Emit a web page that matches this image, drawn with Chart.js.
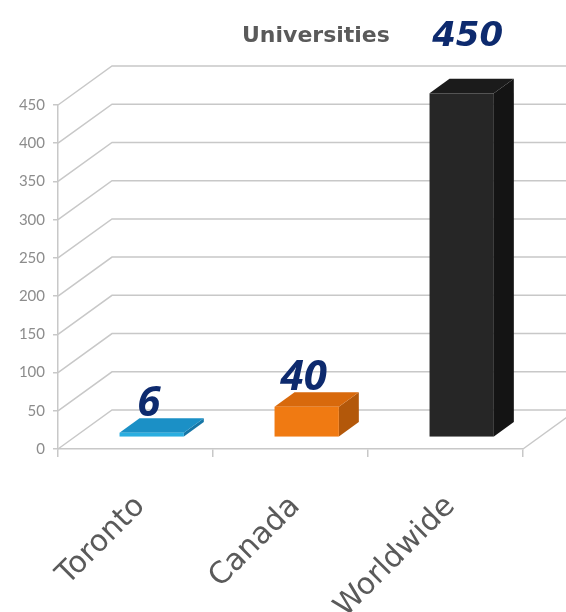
<!DOCTYPE html>
<html>
<head>
<meta charset="utf-8">
<script src="https://cdn.jsdelivr.net/npm/chart.js@4/dist/chart.umd.min.js"></script>
<style>
  html, body { margin: 0; padding: 0; background: #fff; }
  #wrap { width: 566px; height: 612px; position: relative; }
</style>
</head>
<body>
<div id="wrap"><canvas id="chart"></canvas></div>
<script>
// data
const categories = ['Toronto', 'Canada', 'Worldwide'];
const universities = [6, 40, 450];
const yTicks = [0, 50, 100, 150, 200, 250, 300, 350, 400, 450];
const chartTitle = 'Universities';

// box colours: front, top, side
const boxColors = [
  { front: '#2aaee0', top: '#1b90c6', side: '#1676a6' },
  { front: '#f07a12', top: '#d8690c', side: '#b3580a' },
  { front: '#262626', top: '#1b1b1b', side: '#141414' }
];

// depth of the back wall and where the bars sit inside it
const WALL = { dx: 54, dy: -39 };
const BAR_FRONT = 0.3, BAR_BACK = 0.67;
const GRID = '#c8c8c8';

const wallPlugin = {
  id: 'wall',
  beforeDatasetsDraw(chart) {
    const { ctx, scales: { y, x } } = chart;
    const left = x.left, right = x.right;
    ctx.save();
    ctx.strokeStyle = GRID;
    ctx.lineWidth = 1.5;
    yTicks.forEach(v => {
      const py = y.getPixelForValue(v);
      ctx.beginPath();
      ctx.moveTo(left, py);
      ctx.lineTo(left + WALL.dx, py + WALL.dy);
      ctx.lineTo(chart.width, py + WALL.dy);
      ctx.stroke();
    });
    // floor right edge
    const py0 = y.getPixelForValue(0);
    ctx.beginPath();
    ctx.moveTo(right, py0);
    ctx.lineTo(right + WALL.dx, py0 + WALL.dy);
    ctx.stroke();
    ctx.restore();
  },
  afterDatasetsDraw(chart) {
    const { ctx } = chart;
    const meta = chart.getDatasetMeta(0);
    const fx = WALL.dx * BAR_FRONT, fy = WALL.dy * BAR_FRONT;
    const ddx = WALL.dx * (BAR_BACK - BAR_FRONT), ddy = WALL.dy * (BAR_BACK - BAR_FRONT);
    ctx.save();
    meta.data.forEach((el, i) => {
      const c = boxColors[i];
      const l = el.x - el.width / 2 + fx, r = el.x + el.width / 2 + fx;
      const t = el.y + fy, b = el.base + fy;
      // side
      ctx.fillStyle = c.side;
      ctx.beginPath();
      ctx.moveTo(r, t); ctx.lineTo(r + ddx, t + ddy);
      ctx.lineTo(r + ddx, b + ddy); ctx.lineTo(r, b);
      ctx.closePath(); ctx.fill();
      // top
      ctx.fillStyle = c.top;
      ctx.beginPath();
      ctx.moveTo(l, t); ctx.lineTo(r, t);
      ctx.lineTo(r + ddx, t + ddy); ctx.lineTo(l + ddx, t + ddy);
      ctx.closePath(); ctx.fill();
      // front
      ctx.fillStyle = c.front;
      ctx.fillRect(l, t, r - l, b - t);

      // value label
      let ly = t + ddy - 2;
      let cx = el.x + fx - 3;
      ctx.fillStyle = '#0d2a6e';
      ctx.textAlign = 'center';
      ctx.textBaseline = 'alphabetic';
      if (ly < 100) {
        // tallest bar: label sits on the title line
        ly = 46;
        cx += 9;
        ctx.font = 'italic bold 34px "DejaVu Sans"';
      } else {
        ctx.font = 'italic bold 42px "Open Sans"';
      }
      ctx.fillText(String(universities[i]), cx, ly);
    });
    ctx.restore();
  },
  afterDraw(chart) {
    const { ctx } = chart;
    ctx.save();
    ctx.fillStyle = '#5a5a5a';
    ctx.font = 'bold 22px "DejaVu Sans"';
    ctx.textAlign = 'left';
    ctx.textBaseline = 'alphabetic';
    ctx.fillText(chartTitle, 242, 42);
    ctx.restore();
  }
};

new Chart(document.getElementById('chart'), {
  type: 'bar',
  data: {
    labels: categories,
    datasets: [{
      label: chartTitle,
      data: universities,
      backgroundColor: 'rgba(0,0,0,0)',
      borderWidth: 0,
      categoryPercentage: 1,
      barPercentage: 0.415
    }]
  },
  options: {
    responsive: true,
    maintainAspectRatio: false,
    animation: false,
    layout: { padding: { top: 105, right: 43, left: 0, bottom: 0 } },
    plugins: {
      legend: { display: false },
      tooltip: { enabled: false }
    },
    scales: {
      x: {
        afterFit: s => { s.height = 163; },
        grid: { drawOnChartArea: false, tickLength: 8, color: GRID, lineWidth: 1.5 },
        border: { color: GRID, width: 1.5 },
        ticks: {
          minRotation: 45, maxRotation: 45,
          color: '#5a5a5a',
          font: { size: 30, family: 'DejaVu Sans' },
          padding: 32,
          labelOffset: 5
        }
      },
      y: {
        min: 0, max: 450,
        afterFit: s => { s.width = 58; },
        afterBuildTicks: s => { s.ticks = yTicks.map(v => ({ value: v })); },
        grid: { drawOnChartArea: false, tickLength: 5, color: GRID, lineWidth: 1.5 },
        border: { color: GRID, width: 1.5 },
        ticks: {
          color: '#8c8c8c',
          font: { size: 15, family: 'Lato' },
          padding: 8
        }
      }
    }
  },
  plugins: [wallPlugin]
});
</script>
</body>
</html>
